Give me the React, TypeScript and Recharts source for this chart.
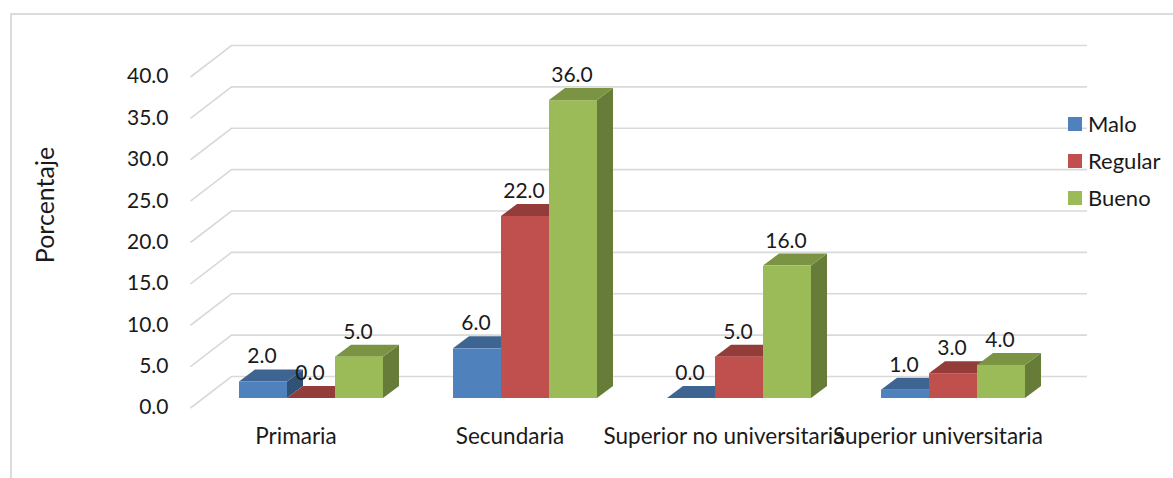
import { Bar, BarChart, CartesianGrid, LabelList, Legend, XAxis, YAxis } from 'recharts';

const categories = ['Primaria', 'Secundaria', 'Superior no universitaria', 'Superior universitaria'];
const malo = [2, 6, 0, 1];
const regular = [0, 22, 5, 3];
const bueno = [5, 36, 16, 4];
const yTicks = [0, 5, 10, 15, 20, 25, 30, 35, 40];

const data = categories.map((name, i) => ({ name, Malo: malo[i], Regular: regular[i], Bueno: bueno[i] }));

const FONT = 'Lato, Carlito, sans-serif';
const TEXT = '#1a1a1a';
const GRID = '#d9d9d9';

// extrusion of each box
const DEPTH_X = 16;
const DEPTH_Y = 12;

// wall and floor offsets relative to the front plane of the bars
const WALL_LEFT = 190.5;
const WALL_BACK = 231.5;
const WALL_RIGHT = 1087;
const WALL_UP = 21.5;
const WALL_DOWN = 10;

function Box3D(props: any) {
  const { x, y, width, height, fill, top, side } = props;
  const r = x + width;
  const b = y + height;
  return (
    <g>
      {height > 0 && (
        <polygon
          points={`${r},${y} ${r + DEPTH_X},${y - DEPTH_Y} ${r + DEPTH_X},${b - DEPTH_Y} ${r},${b}`}
          fill={side}
        />
      )}
      <polygon
        points={`${x},${y} ${x + DEPTH_X},${y - DEPTH_Y} ${r + DEPTH_X},${y - DEPTH_Y} ${r},${y}`}
        fill={top}
      />
      <rect x={x} y={y} width={width} height={height} fill={fill} />
    </g>
  );
}

// gridline running along the side wall and then the back wall
function WallLine(props: any) {
  const { y1 } = props;
  return (
    <polyline
      key={`wall-${y1}`}
      points={`${WALL_LEFT},${y1 + WALL_DOWN} ${WALL_BACK},${y1 - WALL_UP} ${WALL_RIGHT},${y1 - WALL_UP}`}
      fill="none"
      stroke={GRID}
      strokeWidth={1.6}
    />
  );
}

function LegendList({ payload }: any) {
  return (
    <div style={{ fontFamily: FONT, fontSize: 22, color: TEXT }}>
      {(payload || []).map((item: any) => (
        <div key={item.value} style={{ display: 'flex', alignItems: 'center', height: 37 }}>
          <span style={{ width: 14, height: 14, background: item.color, marginRight: 6 }} />
          {item.value}
        </div>
      ))}
    </div>
  );
}

const labelStyle = { fontFamily: FONT, fontSize: 21, fill: TEXT };
const fmt = (v: any) => Number(v).toFixed(1);

const YTitle = () => (
  <text
    x={43.5}
    y={205}
    transform="rotate(-90 43.5 205)"
    textAnchor="middle"
    dominantBaseline="central"
    fontFamily={FONT}
    fontSize={25}
    fill={TEXT}
  >
    Porcentaje
  </text>
);

export default function App() {
  return (
    <div
      style={{
        position: 'absolute',
        left: 0,
        top: 0,
        width: 1173,
        height: 478,
        overflow: 'hidden',
        background: '#fff',
      }}
    >
      <div
        style={{
          position: 'absolute',
          left: 10,
          top: 13,
          right: 0,
          bottom: 0,
          borderLeft: '2px solid #dcdcdc',
          borderTop: '2px solid #dcdcdc',
        }}
      />
      <div style={{ position: 'absolute', left: 0, top: 0 }}>
        <BarChart
          width={1173}
          height={478}
          data={data}
          barCategoryGap={35.5}
          barGap={0}
          margin={{ top: 67, right: 113.5, bottom: 0, left: 0 }}
        >
          <CartesianGrid vertical={false} horizontal={WallLine} />
          <XAxis
            dataKey="name"
            height={80}
            interval={0}
            axisLine={false}
            tickLine={false}
            tickSize={0}
            tickMargin={30}
            tick={{ fontFamily: FONT, fontSize: 22.5, fill: TEXT, dx: -14.5 }}
          />
          <YAxis
            width={203.5}
            domain={[0, 40]}
            ticks={yTicks}
            interval={0}
            axisLine={false}
            tickLine={false}
            tickSize={0}
            tickMargin={35}
            tickFormatter={fmt}
            tick={{ fontFamily: FONT, fontSize: 21, fill: TEXT, dy: 9 }}
            label={<YTitle />}
          />
          <Legend
            layout="vertical"
            align="center"
            verticalAlign="middle"
            itemSorter={null}
            content={<LegendList />}
            wrapperStyle={{ left: 1068, top: 105, width: 105 }}
          />
          <Bar
            dataKey="Malo"
            fill="#4f81bd"
            isAnimationActive={false}
            shape={(p: any) => <Box3D {...p} top="#3e6491" side="#2f5277" />}
          >
            <LabelList dataKey="Malo" position="top" offset={18} dx={-1} formatter={fmt} style={labelStyle} />
          </Bar>
          <Bar
            dataKey="Regular"
            fill="#c0504d"
            isAnimationActive={false}
            shape={(p: any) => <Box3D {...p} top="#943c3a" side="#7d3231" />}
          >
            <LabelList dataKey="Regular" position="top" offset={18} dx={-1} formatter={fmt} style={labelStyle} />
          </Bar>
          <Bar
            dataKey="Bueno"
            fill="#9bbb59"
            isAnimationActive={false}
            shape={(p: any) => <Box3D {...p} top="#7a9443" side="#667c38" />}
          >
            <LabelList dataKey="Bueno" position="top" offset={18} dx={-1} formatter={fmt} style={labelStyle} />
          </Bar>
        </BarChart>
      </div>
    </div>
  );
}
